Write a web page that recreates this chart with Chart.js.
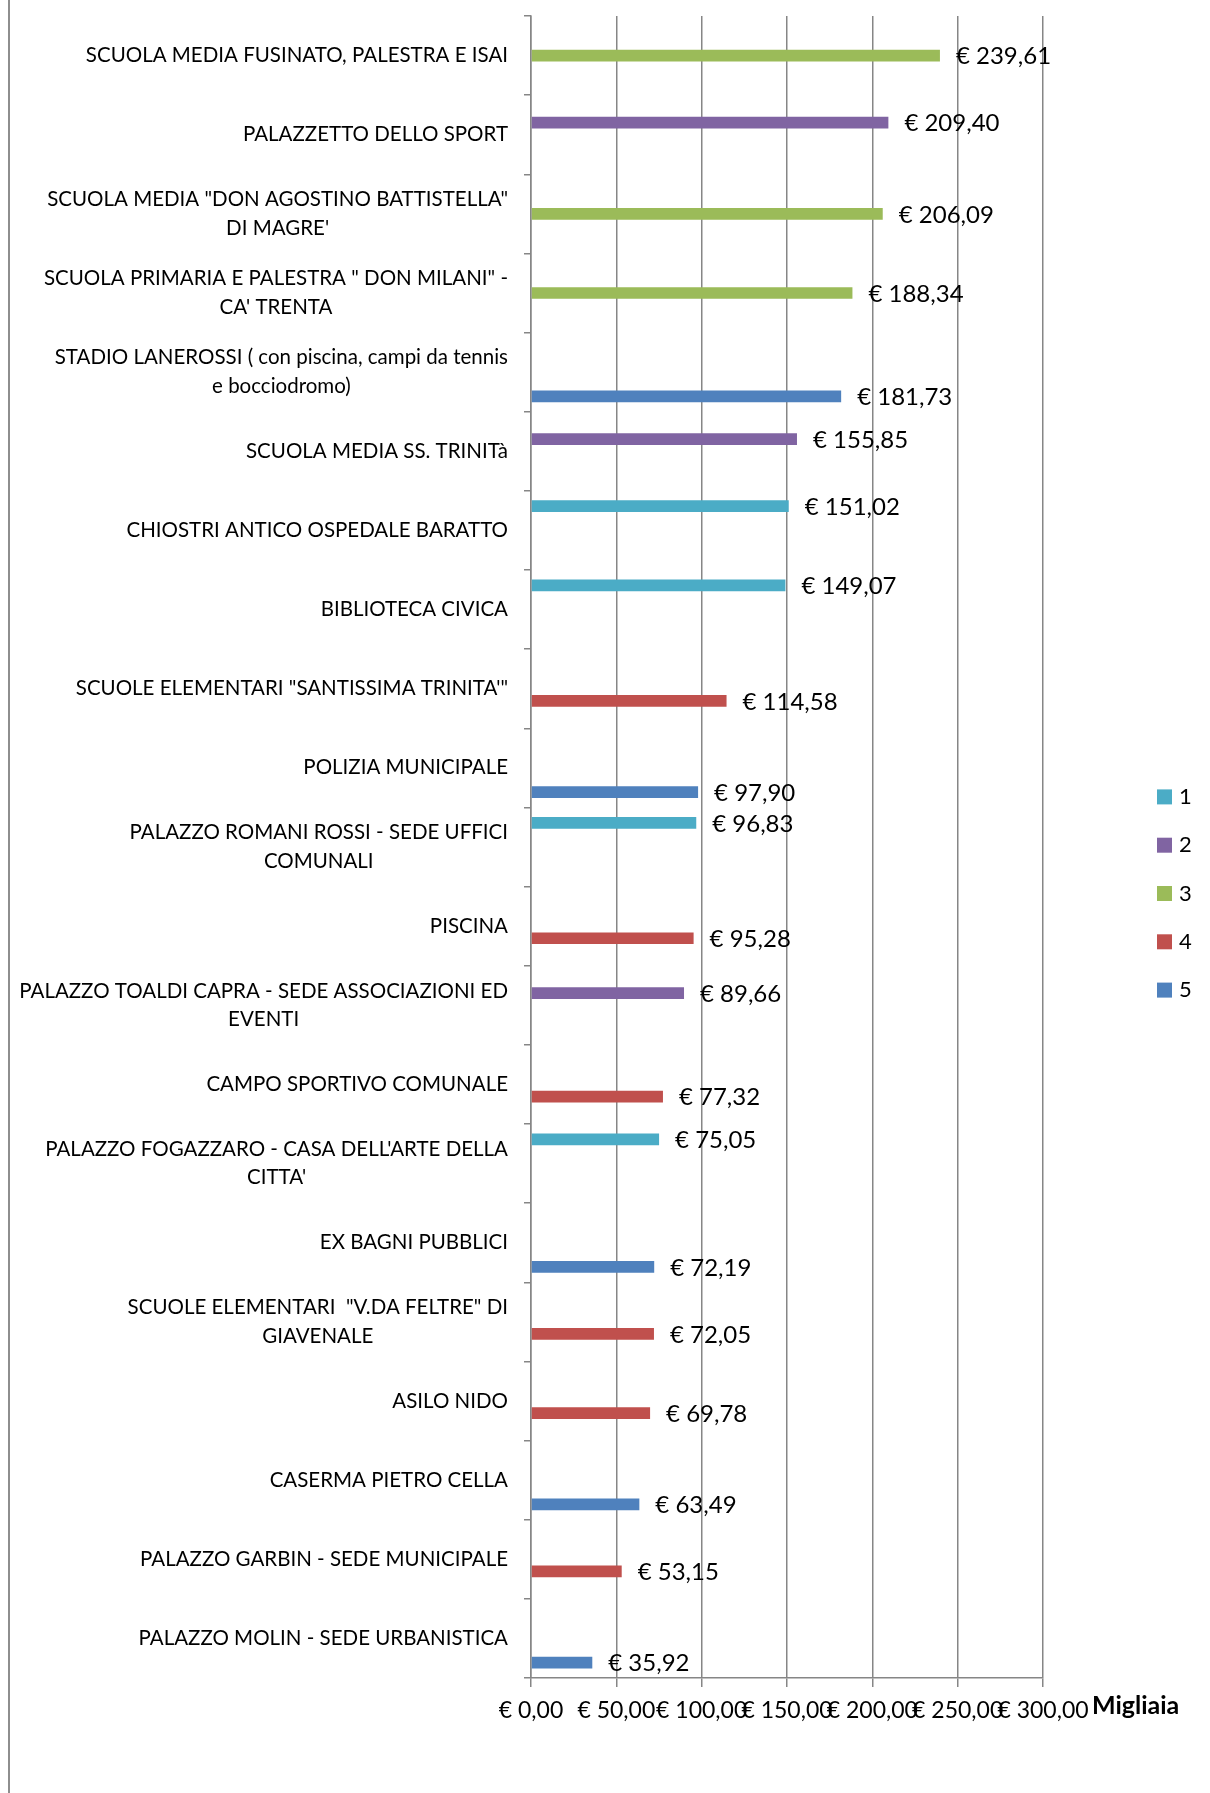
<!DOCTYPE html>
<html>
<head>
<meta charset="utf-8">
<script src="https://cdn.jsdelivr.net/npm/chart.js@4"></script>
<style>
  html, body { margin: 0; padding: 0; background: #fff; }
  #wrap { position: relative; width: 1210px; height: 1793px; }
  #frame { position: absolute; left: 8px; top: 0; height: 1793px; border-left: 2px solid #8e8e8e; }
  canvas { position: absolute; left: 0; top: 0; }
</style>
</head>
<body>
<div id="wrap">
  <div id="frame"></div>
  <canvas id="chart" width="1210" height="1793"></canvas>
</div>
<script>
// categories, top to bottom (line breaks as in the picture)
const categories = [
  ['SCUOLA MEDIA FUSINATO, PALESTRA E ISAI'],
  ['PALAZZETTO DELLO SPORT'],
  ['SCUOLA MEDIA "DON AGOSTINO BATTISTELLA"', "DI MAGRE'"],
  ['SCUOLA PRIMARIA E PALESTRA " DON MILANI" -', "CA' TRENTA"],
  ['STADIO LANEROSSI ( con piscina, campi da tennis', 'e bocciodromo)'],
  ['SCUOLA MEDIA SS. TRINITà'],
  ['CHIOSTRI ANTICO OSPEDALE BARATTO'],
  ['BIBLIOTECA CIVICA'],
  ['SCUOLE ELEMENTARI "SANTISSIMA TRINITA\'"'],
  ['POLIZIA MUNICIPALE'],
  ['PALAZZO ROMANI ROSSI - SEDE UFFICI', 'COMUNALI'],
  ['PISCINA'],
  ['PALAZZO TOALDI CAPRA - SEDE ASSOCIAZIONI ED', 'EVENTI'],
  ['CAMPO SPORTIVO COMUNALE'],
  ["PALAZZO FOGAZZARO - CASA DELL'ARTE DELLA", "CITTA'"],
  ['EX BAGNI PUBBLICI'],
  ['SCUOLE ELEMENTARI  "V.DA FELTRE" DI', 'GIAVENALE'],
  ['ASILO NIDO'],
  ['CASERMA PIETRO CELLA'],
  ['PALAZZO GARBIN - SEDE MUNICIPALE'],
  ['PALAZZO MOLIN - SEDE URBANISTICA']
];

const seriesNames = ['1', '2', '3', '4', '5'];
const seriesColors = ['#4BACC6', '#8064A2', '#9BBB59', '#C0504D', '#4F81BD'];

// values in thousands of euro
const series1 = [null, null, null, null, null, null, 151.02, 149.07, null, null, 96.83, null, null, null, 75.05, null, null, null, null, null, null];
const series2 = [null, 209.40, null, null, null, 155.85, null, null, null, null, null, null, 89.66, null, null, null, null, null, null, null, null];
const series3 = [239.61, null, 206.09, 188.34, null, null, null, null, null, null, null, null, null, null, null, null, null, null, null, null, null];
const series4 = [null, null, null, null, null, null, null, null, 114.58, null, null, 95.28, null, 77.32, null, null, 72.05, 69.78, null, 53.15, null];
const series5 = [null, null, null, null, 181.73, null, null, null, null, 97.90, null, null, null, null, null, 72.19, null, null, 63.49, null, 35.92];

const xTicks = [0, 50, 100, 150, 200, 250, 300];
const axisTitle = 'Migliaia';

const FONT = "Lato, 'Open Sans', sans-serif";
Chart.defaults.font.family = FONT;
Chart.defaults.color = '#000';

function euro(v) {
  return '€ ' + v.toFixed(2).replace('.', ',');
}

// 🔹 category labels, value labels, axis unit and legend
const textPlugin = {
  id: 'textPlugin',
  afterDraw(chart) {
    const ctx = chart.ctx;
    const ys = chart.scales.y;
    const xs = chart.scales.x;
    ctx.save();
    ctx.fillStyle = '#000';
    ctx.textBaseline = 'middle';

    // category labels: block right aligned, lines centred
    ctx.font = '20.5px ' + FONT;
    ctx.textAlign = 'center';
    categories.forEach((lines, i) => {
      const cy = ys.getPixelForTick(i);
      const w = Math.max(...lines.map(l => ctx.measureText(l).width));
      const cx = ys.right - 23 - w / 2;
      lines.forEach((l, j) => {
        ctx.fillText(l, cx, cy + (j - (lines.length - 1) / 2) * 28.6);
      });
    });

    // value labels
    ctx.font = '24px ' + FONT;
    ctx.textAlign = 'left';
    chart.data.datasets.forEach((ds, di) => {
      const meta = chart.getDatasetMeta(di);
      meta.data.forEach((bar, i) => {
        if (ds.data[i] == null) return;
        ctx.fillText(euro(ds.data[i]), bar.x + 16, bar.y + 1);
      });
    });

    // unit
    ctx.font = 'bold 25px ' + FONT;
    ctx.fillText(axisTitle, xs.right + 49, xs.top + 28);

    // legend
    ctx.font = '22px ' + FONT;
    const step = 48.3;
    const y0 = chart.height / 2 - 2 * step - 3;
    chart.data.datasets.forEach((ds, di) => {
      const y = y0 + di * step;
      ctx.fillStyle = ds.backgroundColor;
      ctx.fillRect(xs.right + 114, y - 7.5, 15, 15);
      ctx.fillStyle = '#000';
      ctx.fillText(ds.label, xs.right + 136, y);
    });
    ctx.restore();
  }
};

const seriesData = [series1, series2, series3, series4, series5];

new Chart(document.getElementById('chart'), {
  type: 'bar',
  data: {
    labels: categories.map(c => c.join(' ')),
    datasets: seriesData.map((d, i) => ({
      label: seriesNames[i],
      data: d,
      backgroundColor: seriesColors[i],
      borderWidth: 0,
      categoryPercentage: 0.765,
      barPercentage: 0.97
    }))
  },
  options: {
    responsive: false,
    animation: false,
    indexAxis: 'y',
    layout: { padding: { top: 16, right: 167, bottom: 0, left: 0 } },
    plugins: {
      legend: { display: false },
      tooltip: { enabled: false }
    },
    scales: {
      x: {
        min: 0,
        max: 300,
        afterFit: s => { s.height = 115; },
        afterBuildTicks: s => { s.ticks = xTicks.map(v => ({ value: v })); },
        ticks: {
          autoSkip: false,
          maxRotation: 0,
          padding: 10,
          color: '#000',
          font: { size: 23 },
          callback: v => euro(v)
        },
        grid: { color: '#868686', lineWidth: 1.5, tickLength: 9 },
        border: { color: '#868686', width: 1.5 }
      },
      y: {
        afterFit: s => { s.width = 531; },
        ticks: { display: false },
        grid: { drawOnChartArea: false, offset: true, color: '#868686', lineWidth: 1.5, tickLength: 7 },
        border: { color: '#868686', width: 1.5 }
      }
    }
  },
  plugins: [textPlugin]
});
</script>
</body>
</html>
